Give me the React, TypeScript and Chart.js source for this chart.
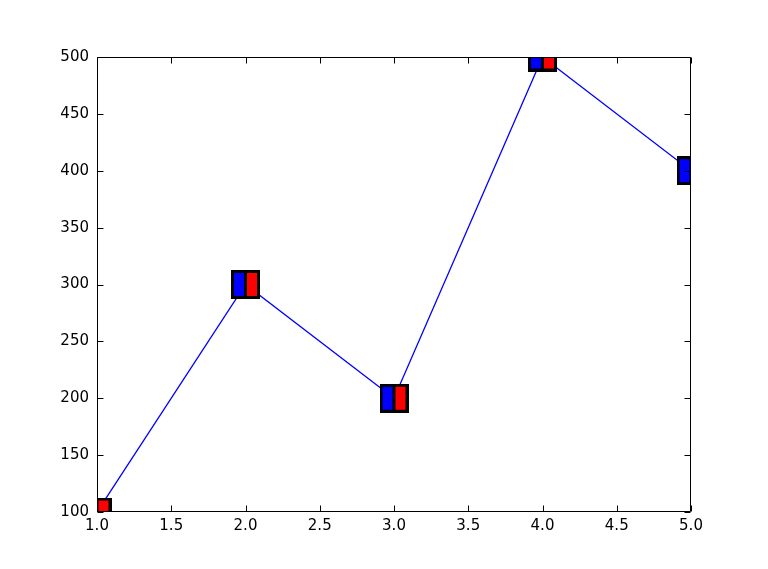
import React, { useEffect, useRef } from "react";
import { Chart, registerables } from "chart.js";

Chart.register(...registerables);

const xValues = [1, 2, 3, 4, 5];
const yValues = [100, 300, 200, 500, 400];
const xTicks = [1.0, 1.5, 2.0, 2.5, 3.0, 3.5, 4.0, 4.5, 5.0];
const yTicks = [100, 150, 200, 250, 300, 350, 400, 450, 500];

function makeMarker(): HTMLCanvasElement {
  const c = document.createElement("canvas");
  c.width = 29;
  c.height = 29;
  const g = c.getContext("2d")!;
  g.fillStyle = "#000000";
  g.fillRect(0, 0, 29, 29);
  g.fillStyle = "#0000ff";
  g.fillRect(3, 3, 10, 23);
  g.fillStyle = "#ff0000";
  g.fillRect(16, 3, 10, 23);
  return c;
}

const framePlugin = {
  id: "frameTicks",
  afterDatasetsDraw(chart: any) {
    const { ctx, chartArea } = chart;
    const xs = chart.scales.x;
    const ys = chart.scales.y;
    const L = Math.round(chartArea.left) + 0.5;
    const R = Math.round(chartArea.right) - 0.5;
    const T = Math.round(chartArea.top) + 0.5;
    const B = Math.round(chartArea.bottom) - 0.5;
    const len = 6;
    ctx.save();
    ctx.strokeStyle = "#000000";
    ctx.lineWidth = 1;
    ctx.beginPath();
    ctx.rect(L, T, R - L, B - T);
    for (const v of xTicks) {
      const px = Math.round(xs.getPixelForValue(v)) + 0.5;
      ctx.moveTo(px, B);
      ctx.lineTo(px, B - len);
      ctx.moveTo(px, T);
      ctx.lineTo(px, T + len);
    }
    for (const v of yTicks) {
      const py = Math.round(ys.getPixelForValue(v)) + 0.5;
      ctx.moveTo(L, py);
      ctx.lineTo(L + len, py);
      ctx.moveTo(R, py);
      ctx.lineTo(R - len, py);
    }
    ctx.stroke();
    ctx.restore();
  },
};

export default function App() {
  const ref = useRef<HTMLCanvasElement | null>(null);
  useEffect(() => {
    if (!ref.current) return;
    const marker = makeMarker();
    const chart = new Chart(ref.current, {
      type: "line",
      data: {
        datasets: [
          {
            data: xValues.map((x, i) => ({ x, y: yValues[i] })),
            borderColor: "#0000ff",
            borderWidth: 1.3,
            tension: 0,
            fill: false,
            pointStyle: marker as any,
            pointRadius: 14,
            clip: 0 as any,
          },
        ],
      },
      options: {
        responsive: false,
        animation: false,
        devicePixelRatio: 1,
        layout: { padding: { left: 0, right: 77, top: 57, bottom: 0 } },
        plugins: { legend: { display: false }, tooltip: { enabled: false } },
        scales: {
          x: {
            type: "linear",
            min: 1,
            max: 5,
            afterFit: (s: any) => {
              s.height = 57;
            },
            afterBuildTicks: (s: any) => {
              s.ticks = xTicks.map((v) => ({ value: v }));
            },
            grid: { display: false, drawTicks: false, tickLength: 0 },
            border: { display: false },
            ticks: {
              padding: 5,
              color: "#000000",
              maxRotation: 0,
              autoSkip: false,
              font: { family: "DejaVu Sans", size: 15 },
              callback: (v: any) => Number(v).toFixed(1),
            },
          },
          y: {
            type: "linear",
            min: 100,
            max: 500,
            afterFit: (s: any) => {
              s.width = 97;
            },
            afterBuildTicks: (s: any) => {
              s.ticks = yTicks.map((v) => ({ value: v }));
            },
            grid: { display: false, drawTicks: false, tickLength: 0 },
            border: { display: false },
            ticks: {
              padding: 8,
              color: "#000000",
              autoSkip: false,
              font: { family: "DejaVu Sans", size: 15 },
              callback: (v: any) => String(v),
            },
          },
        },
      },
      plugins: [framePlugin],
    });
    return () => chart.destroy();
  }, []);
  return (
    <div style={{ position: "absolute", left: 0, top: 0, width: 768, height: 569, background: "#ffffff" }}>
      <canvas ref={ref} width={768} height={569} />
    </div>
  );
}
